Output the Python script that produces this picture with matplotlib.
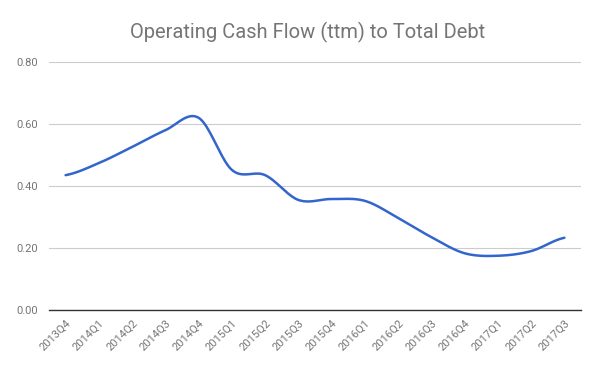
import numpy as np
import matplotlib
matplotlib.use("Agg")
import matplotlib.pyplot as plt
import matplotlib.transforms as mtransforms

QUARTERS = ["2013Q4", "2014Q1", "2014Q2", "2014Q3", "2014Q4", "2015Q1",
            "2015Q2", "2015Q3", "2015Q4", "2016Q1", "2016Q2", "2016Q3",
            "2016Q4", "2017Q1", "2017Q2", "2017Q3"]
OCF_TO_DEBT = [0.435, 0.474, 0.526, 0.58, 0.62, 0.452,
               0.435, 0.355, 0.358, 0.352, 0.297, 0.235,
               0.183, 0.175, 0.19, 0.233]
Y_TICKS = [0.0, 0.2, 0.4, 0.6, 0.8]

LINE_COLOR = "#3366CC"
TEXT_COLOR = "#757575"
GRID_COLOR = "#CCCCCC"


def smooth(x, y, steps=20):
    # catmull-rom curve through the points, like the "function" curve type
    x = np.asarray(x, float)
    y = np.asarray(y, float)
    xs, ys = [], []
    n = len(x)
    for i in range(n - 1):
        p0 = y[i - 1] if i > 0 else y[i]
        p3 = y[i + 2] if i + 2 < n else y[i + 1]
        p1, p2 = y[i], y[i + 1]
        t = np.linspace(0, 1, steps, endpoint=False)
        m1 = (p2 - p0) / 2
        m2 = (p3 - p1) / 2
        h00 = 2 * t**3 - 3 * t**2 + 1
        h10 = t**3 - 2 * t**2 + t
        h01 = -2 * t**3 + 3 * t**2
        h11 = t**3 - t**2
        ys.append(h00 * p1 + h10 * m1 + h01 * p2 + h11 * m2)
        xs.append(x[i] + t * (x[i + 1] - x[i]))
    xs.append([x[-1]])
    ys.append([y[-1]])
    return np.concatenate(xs), np.concatenate(ys)


plt.rcParams["font.family"] = ["Roboto", "DejaVu Sans"]

fig = plt.figure(figsize=(6, 3.71), dpi=100)
ax = fig.add_axes([49 / 600, 1 - 310 / 371, 532 / 600, 248 / 371])

pos = np.arange(len(QUARTERS))
sx, sy = smooth(pos, OCF_TO_DEBT)
ax.plot(sx, sy, color=LINE_COLOR, linewidth=1.8, solid_capstyle="round", zorder=3)

ax.set_xlim(-0.5, len(QUARTERS) - 0.5)
ax.set_ylim(0, 0.8)
ax.set_yticks(Y_TICKS)
ax.set_yticklabels([f"{v:.2f}" for v in Y_TICKS])
ax.set_xticks(pos)
ax.set_xticklabels(QUARTERS, rotation=45, ha="right", rotation_mode="anchor")
offset = mtransforms.ScaledTranslation(5 / 72, 0, fig.dpi_scale_trans)
for lbl in ax.get_xticklabels():
    lbl.set_transform(lbl.get_transform() + offset)

ax.tick_params(axis="both", length=0, labelsize=8, labelcolor=TEXT_COLOR)
ax.tick_params(axis="x", pad=6)
ax.tick_params(axis="y", pad=8)
ax.grid(axis="y", color=GRID_COLOR, linewidth=0.8)
ax.set_axisbelow(True)
for side in ["top", "right", "left"]:
    ax.spines[side].set_visible(False)
ax.spines["bottom"].set_color("#333333")
ax.spines["bottom"].set_linewidth(1)
ax.spines["bottom"].set_zorder(4)

fig.text(308 / 600, 1 - 32 / 371, "Operating Cash Flow (ttm) to Total Debt",
         ha="center", va="center", fontsize=14.5, color=TEXT_COLOR)

fig.savefig("out.png", dpi=100, facecolor="white")
